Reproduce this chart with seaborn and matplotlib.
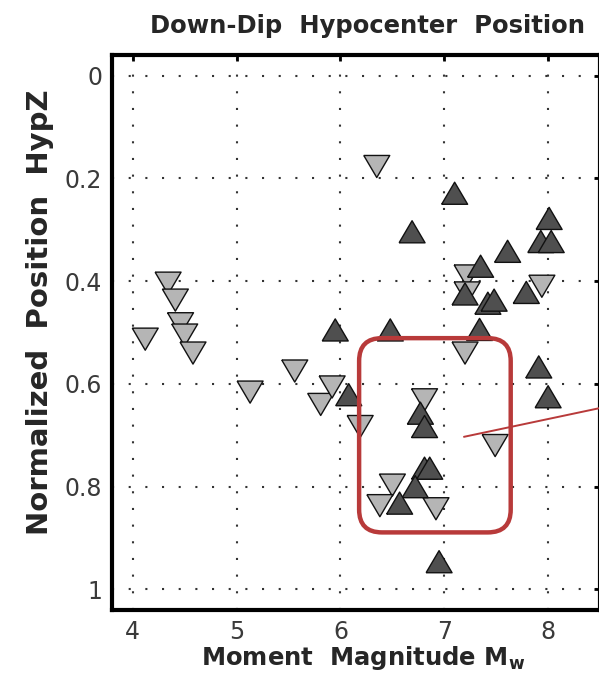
import numpy as np
import pandas as pd
import matplotlib
matplotlib.use("Agg")
import matplotlib.pyplot as plt
from matplotlib.patches import FancyBboxPatch
import seaborn as sns

# Events with hypocentre in the lower part of the rupture (pointing down, light)
down_mw = [4.12, 4.34, 4.41, 4.46, 4.50, 4.58, 5.13, 5.56, 5.81, 5.92, 6.19, 6.35,
           6.81, 6.50, 6.38, 6.92, 7.49, 7.20, 7.22, 7.22, 7.94]
down_z = [0.513, 0.404, 0.437, 0.483, 0.505, 0.540, 0.616, 0.575, 0.640, 0.606, 0.683, 0.177,
          0.631, 0.797, 0.837, 0.843, 0.720, 0.540, 0.390, 0.423, 0.410]

# Events with hypocentre in the upper part of the rupture (pointing up, dark)
up_mw = [5.95, 6.08, 6.48, 6.69, 7.10, 8.01, 7.93, 8.03, 7.61, 7.35, 7.20, 7.42,
         7.48, 7.79, 7.34, 7.91, 8.00, 6.77, 6.81, 6.81, 6.86, 6.72, 6.57, 6.95]
up_z = [0.495, 0.621, 0.495, 0.304, 0.229, 0.278, 0.323, 0.323, 0.342, 0.371, 0.425, 0.443,
        0.437, 0.422, 0.494, 0.567, 0.625, 0.657, 0.683, 0.764, 0.764, 0.800, 0.832, 0.946]

x_ticks = [4, 5, 6, 7, 8]
y_ticks = [0, 0.2, 0.4, 0.6, 0.8, 1.0]
y_tick_labels = ["0", "0.2", "0.4", "0.6", "0.8", "1"]

df = pd.DataFrame({
    "Mw": down_mw + up_mw,
    "HypZ": down_z + up_z,
    "kind": ["down"] * len(down_mw) + ["up"] * len(up_mw),
})

sns.set_style("white")
plt.rcParams["font.family"] = ["DejaVu Sans"]

fig = plt.figure(figsize=(5.99, 6.79), dpi=100)
ax = fig.add_axes([112 / 599, 1 - 610 / 679, 488 / 599, 555 / 679])

# near-equilateral triangles
tri_up = [(-1.0, -0.85), (1.0, -0.85), (0.0, 0.85), (-1.0, -0.85)]
tri_down = [(-1.0, 0.85), (1.0, 0.85), (0.0, -0.85), (-1.0, 0.85)]

sns.scatterplot(
    data=df, x="Mw", y="HypZ", hue="kind", style="kind",
    palette={"down": "#b5b5b5", "up": "#4f4f4f"},
    markers={"down": tri_down, "up": tri_up},
    s=350, edgecolor="#111111", linewidth=1.0, legend=False, ax=ax, zorder=3,
)

ax.set_xlim(3.8, 8.5)
ax.set_ylim(1.04, -0.04)
ax.set_xticks(x_ticks)
ax.set_xticklabels([str(v) for v in x_ticks])
ax.set_yticks(y_ticks)
ax.set_yticklabels(y_tick_labels)
ax.set_xlabel("")
ax.set_ylabel("")

ax.grid(True, color="#333333", linestyle=(0, (1, 7)), linewidth=1.5)
ax.tick_params(direction="in", length=4, width=2, colors="black",
               labelcolor="#3a3a3a", labelsize=17, top=True, right=True, pad=7)
for sp in ax.spines.values():
    sp.set_visible(True)
    sp.set_color("black")
    sp.set_linewidth(3)

# highlighted cluster
px_x = 1 / 104.0
px_y = 1 / 515.0
box = FancyBboxPatch(
    (6.18, 0.511), 7.64 - 6.18, 0.889 - 0.511,
    boxstyle="round,pad=0,rounding_size=0.22",
    mutation_aspect=px_y / px_x,
    facecolor="none", edgecolor="#b83a3a", linewidth=3.2, zorder=4,
)
ax.add_patch(box)
ax.plot([7.19, 8.5], [0.703, 0.647], color="#b83a3a", linewidth=1.4, zorder=4)

fig.text(367 / 599, 1 - 33 / 679, "Down-Dip  Hypocenter  Position",
         ha="center", va="baseline", fontsize=17.5, fontweight="bold")
fig.text(40 / 599, 1 - 312 / 679, "Normalized  Position  HypZ",
         ha="center", va="center", rotation=90, fontsize=21, fontweight="bold")
fig.text(363 / 599, 1 - 665 / 679, r"Moment  Magnitude M$_\mathbf{w}$",
         ha="center", va="baseline", fontsize=17.5, fontweight="bold")

fig.savefig("out.png", dpi=100)
